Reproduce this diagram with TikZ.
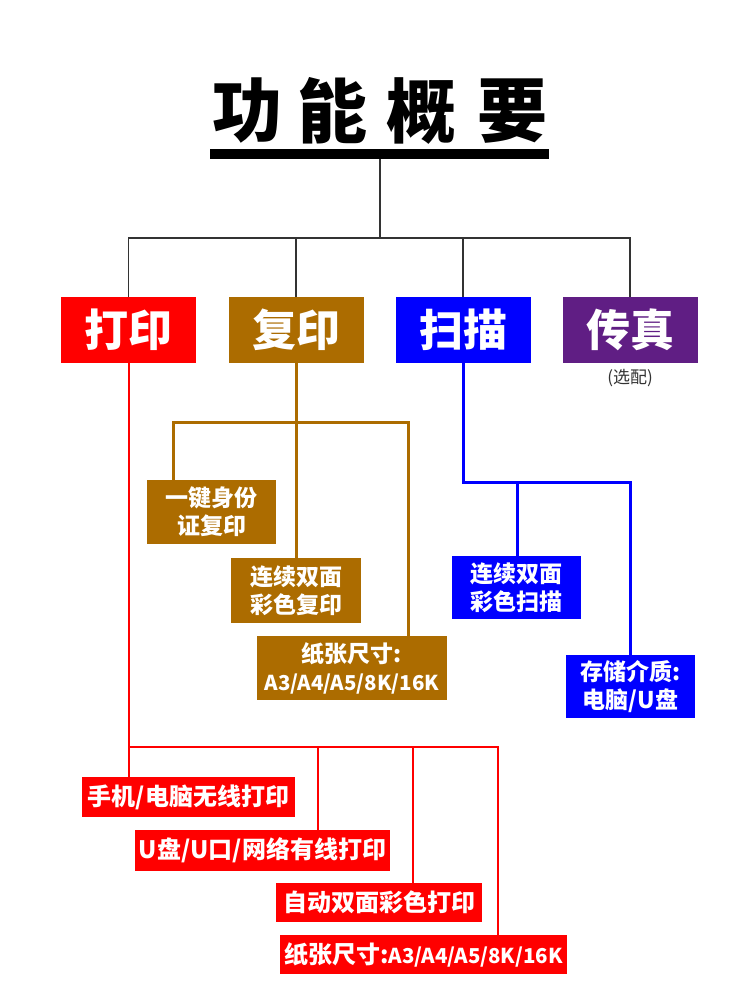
\documentclass[tikz,border=0pt]{standalone}
\usepackage{fontspec}
\newfontfamily\cjk{Noto Sans CJK SC}
\newcommand\narlat[1]{{\fontsize{20.5}{20.5}\selectfont #1}}
\definecolor{cred}{HTML}{FF0000}
\definecolor{cbrown}{HTML}{AC6C00}
\definecolor{cblue}{HTML}{0000FF}
\definecolor{cpurple}{HTML}{601E84}
\definecolor{cgray}{HTML}{333333}
\begin{document}
\begin{tikzpicture}[x=1pt,y=-1pt,
  every node/.style={inner sep=0pt,outer sep=0pt},
  topbox/.style={fill=#1,text=white,minimum width=135,minimum height=66,font=\cjk\bfseries\fontsize{44}{44}\selectfont},
  subbox/.style={fill=#1,text=white,align=center,font=\cjk\bfseries\fontsize{23}{28}\selectfont},
  redbox/.style={fill=cred,text=white,minimum height=40,font=\cjk\bfseries\fontsize{24}{24}\selectfont},
  gline/.style={draw=cgray,line width=1.6},
  bline/.style={draw=cbrown,line width=3},
  uline/.style={draw=cblue,line width=3},
  rline/.style={draw=cred,line width=2},
  tchar/.style={font=\cjk\bfseries\fontsize{70}{70}\selectfont}
]
\useasboundingbox[fill=white] (0,0) rectangle (750,1000);
% title
\node[tchar] (t1) at (247,111) {功};
\node[tchar] (t2) at (332,111) {能};
\node[tchar] (t3) at (421,111) {概};
\node[tchar] (t4) at (512,111) {要};
\node[fill=black,minimum width=339,minimum height=10] (bar) at (379.5,154) {};
% top boxes
\node[topbox=cred] (print) at (128.5,330) {打印};
\node[topbox=cbrown] (copy) at (296,330) {复印};
\node[topbox=cblue] (scan) at (463,330) {扫描};
\node[topbox=cpurple] (fax) at (630,330) {传真};
\node[font=\cjk\fontsize{17}{17}\selectfont,text=cgray] (opt) at (630,378) {(选配)};
\coordinate (hub) at (380,238);
\draw[gline] (bar.south -| hub) -- (hub);
\draw[gline] (print.north) |- (fax.north |- hub) -- (fax.north);
\draw[gline] (copy.north) -- (copy.north |- hub);
\draw[gline] (scan.north) -- (scan.north |- hub);
% copy subtree
\node[subbox=cbrown,minimum width=129,minimum height=64] (cid) at (211.5,512) {一键身份\\证复印};
\node[subbox=cbrown,minimum width=130,minimum height=65] (ccont) at (296,590.5) {连续双面\\彩色复印};
\node[subbox=cbrown,minimum width=190,minimum height=64] (csize) at (352,668) {纸张尺寸:\\\narlat{A3/A4/A5/8K/16K}};
\coordinate (cL) at (173,422);
\coordinate (cR) at (408,422);
\draw[bline] (copy.south) -- (ccont.north);
\draw[bline] (cL |- cid.north) -- (cL) -- (cR) -- (cR |- csize.north);
% scan subtree
\node[subbox=cblue,minimum width=129,minimum height=63] (scont) at (516.5,587.5) {连续双面\\彩色扫描};
\node[subbox=cblue,minimum width=129,minimum height=63] (sstore) at (630.5,686.5) {存储介质:\\电脑/U盘};
\coordinate (sM) at (517,482);
\coordinate (sR) at (630.5,482);
\draw[uline] (scan.south) |- (sR) -- (sstore.north);
\draw[uline] (sM) -- (sM |- scont.north);
% print subtree
\node[redbox,minimum width=213] (p1) at (188.5,797) {手机/电脑无线打印};
\node[redbox,minimum width=255,minimum height=41] (p2) at (262.5,850.5) {U盘/U口/网络有线打印};
\node[redbox,minimum width=206,minimum height=39] (p3) at (379,902.5) {自动双面彩色打印};
\node[redbox,minimum width=287,minimum height=39] (p4) at (423.5,954.5) {纸张尺寸:\narlat{A3/A4/A5/8K/16K}};
\coordinate (pR) at (498,747);
\coordinate (pA) at (318,747);
\coordinate (pB) at (413,747);
\draw[rline] (print.south) -- (print.south |- p1.north);
\draw[rline] (print.south |- pR) -- (pR) -- (pR |- p4.north);
\draw[rline] (pA) -- (pA |- p2.north);
\draw[rline] (pB) -- (pB |- p3.north);
\end{tikzpicture}
\end{document}
